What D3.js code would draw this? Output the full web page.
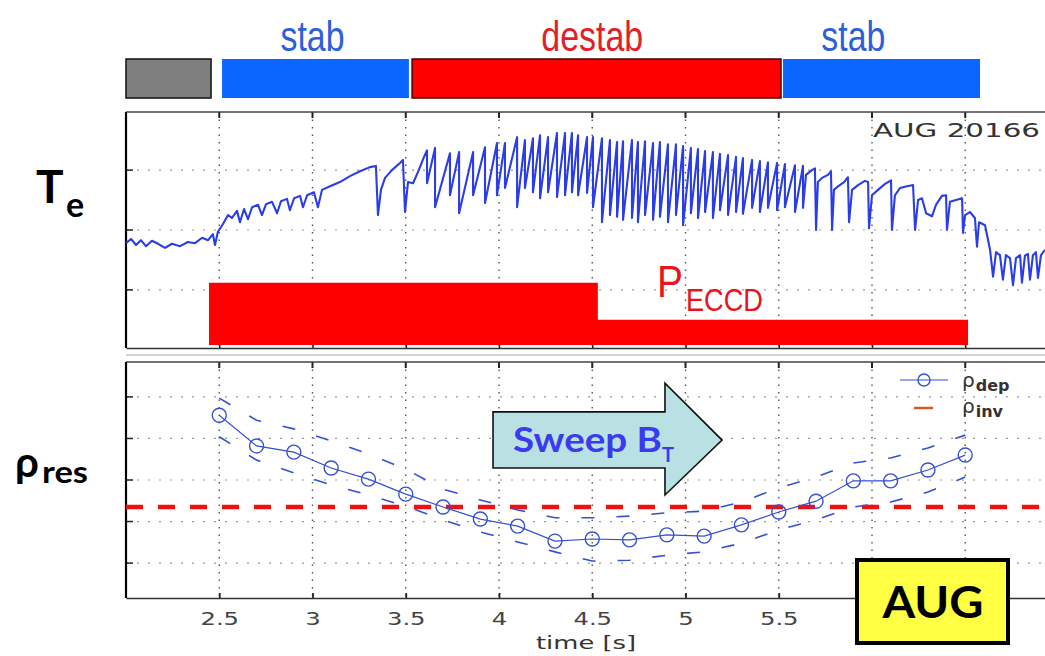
<!DOCTYPE html>
<html>
<head>
<meta charset="utf-8">
<script src="https://cdn.jsdelivr.net/npm/d3@7"></script>
<style>
  body { margin: 0; background: #fff; }
  svg { display: block; }
</style>
</head>
<body>
<div id="chart"></div>
<script>
// ---------------- data ----------------
// heating phases above the plot (time in s)
const phaseStart = [2.0, 2.515, 3.534, 5.523];
const phaseEnd = [2.456, 3.517, 5.512, 6.579];
const phaseKind = ["off", "stab", "destab", "stab"];
const phaseLabel = ["", "stab", "destab", "stab"];
const phaseLabelT = [null, 3.0, 4.5, 5.9];

// Te trace (a.u.) before the sawtooth comb
const leadT = [2.000, 2.027, 2.054, 2.080, 2.107, 2.139, 2.172, 2.209, 2.247, 2.290,
  2.332, 2.370, 2.408, 2.440, 2.466, 2.477, 2.493, 2.520, 2.547, 2.568,
  2.595, 2.611, 2.633, 2.654, 2.676, 2.708, 2.729, 2.751, 2.783, 2.810,
  2.831, 2.863, 2.879, 2.901, 2.933, 2.949, 2.971, 3.008, 3.029, 3.051,
  3.094, 3.147, 3.201, 3.255, 3.308, 3.340, 3.351, 3.367, 3.389, 3.426,
  3.469, 3.485, 3.496, 3.512, 3.539, 3.566, 3.598];
const leadTe = [1.78, 1.85, 1.75, 1.83, 1.73, 1.82, 1.77, 1.70, 1.77, 1.73,
  1.80, 1.78, 1.87, 1.83, 1.93, 1.75, 1.97, 2.10, 2.25, 2.20,
  2.32, 2.13, 2.35, 2.18, 2.38, 2.42, 2.25, 2.43, 2.47, 2.28,
  2.48, 2.52, 2.33, 2.53, 2.57, 2.38, 2.58, 2.63, 2.38, 2.67,
  2.73, 2.80, 2.90, 2.98, 3.05, 3.07, 2.25, 2.67, 2.87, 3.00,
  3.12, 3.17, 2.30, 2.80, 2.78, 2.97, 3.22];

// sawtooth crashes: time, Te just before the crash, Te right after it
const crashT = [3.614, 3.657, 3.737, 3.786, 3.861, 3.925, 3.989, 4.032, 4.097, 4.139,
  4.182, 4.220, 4.263, 4.311, 4.354, 4.391, 4.424, 4.472, 4.504, 4.552,
  4.595, 4.633, 4.665, 4.713, 4.745, 4.783, 4.826, 4.863, 4.906, 4.949,
  4.987, 5.029, 5.067, 5.105, 5.147, 5.185, 5.228, 5.271, 5.308, 5.357,
  5.399, 5.442, 5.491, 5.533, 5.587, 5.630];
const crashTop = [3.33, 3.37, 3.28, 3.30, 3.30, 3.38, 3.45, 3.45, 3.55, 3.50,
  3.53, 3.58, 3.55, 3.62, 3.62, 3.62, 3.58, 3.55, 3.55, 3.53,
  3.50, 3.47, 3.48, 3.50, 3.47, 3.48, 3.45, 3.47, 3.43, 3.43,
  3.40, 3.37, 3.35, 3.32, 3.30, 3.27, 3.25, 3.22, 3.20, 3.17,
  3.15, 3.13, 3.12, 3.10, 3.08, 3.07];
const crashBot = [2.78, 2.38, 2.58, 2.28, 2.58, 2.45, 2.58, 2.70, 2.38, 2.70,
  2.63, 2.53, 2.63, 2.55, 2.58, 2.63, 2.58, 2.62, 2.38, 2.13,
  2.25, 2.22, 2.17, 2.20, 2.13, 2.25, 2.17, 2.22, 2.13, 2.25,
  2.08, 2.28, 2.20, 2.30, 2.20, 2.33, 2.25, 2.30, 2.27, 2.37,
  2.30, 2.37, 2.33, 2.38, 2.30, 2.37];

// Te trace after the comb
const tailT = [5.646, 5.678, 5.694, 5.700, 5.710, 5.732, 5.764, 5.780, 5.786, 5.796,
  5.818, 5.850, 5.871, 5.877, 5.893, 5.925, 5.962, 5.979, 5.984, 6.000,
  6.032, 6.070, 6.102, 6.107, 6.123, 6.150, 6.188, 6.220, 6.231, 6.247,
  6.268, 6.290, 6.322, 6.343, 6.375, 6.397, 6.402, 6.418, 6.450, 6.483,
  6.488, 6.499, 6.525, 6.552, 6.563, 6.574, 6.606, 6.633, 6.649, 6.665,
  6.686, 6.702, 6.718, 6.740, 6.756, 6.772, 6.794, 6.804, 6.820, 6.836,
  6.847, 6.863, 6.879, 6.890, 6.906, 6.928];
const tailTe = [2.92, 3.00, 3.03, 2.00, 2.80, 2.87, 2.92, 2.98, 2.00, 2.67,
  2.73, 2.80, 2.88, 2.13, 2.67, 2.75, 2.82, 2.80, 2.03, 2.58,
  2.67, 2.77, 2.83, 2.00, 2.58, 2.70, 2.73, 2.75, 2.00, 2.50,
  2.53, 2.28, 2.23, 2.42, 2.57, 2.58, 2.00, 2.47, 2.50, 2.53,
  1.95, 2.25, 2.30, 2.20, 1.72, 2.13, 2.08, 1.67, 1.22, 1.63,
  1.58, 1.17, 1.58, 1.53, 1.08, 1.53, 1.58, 1.12, 1.57, 1.60,
  1.17, 1.58, 1.63, 1.20, 1.58, 1.67];

// ECCD power (a.u.), step waveform
const eccdT = [2.445, 4.53, 6.515];
const eccdP = [1.12, 0.5, 0.5];
const eccdBase = 0.08;

// deposition radius during the B_T sweep
const sweepT = [2.5, 2.7, 2.9, 3.1, 3.3, 3.5, 3.7, 3.9, 4.1, 4.3, 4.5,
  4.7, 4.9, 5.1, 5.3, 5.5, 5.7, 5.9, 6.1, 6.3, 6.5];
const rhoDep = [0.456, 0.382, 0.367, 0.329, 0.302, 0.266, 0.235, 0.206, 0.189, 0.153, 0.158,
  0.156, 0.168, 0.165, 0.192, 0.223, 0.249, 0.298, 0.298, 0.324, 0.360];
const rhoUp = [0.497, 0.444, 0.423, 0.394, 0.363, 0.326, 0.278, 0.252, 0.228, 0.209, 0.209,
  0.213, 0.221, 0.225, 0.247, 0.281, 0.307, 0.341, 0.353, 0.377, 0.408];
const rhoLow = [0.404, 0.348, 0.317, 0.288, 0.264, 0.237, 0.204, 0.175, 0.151, 0.127, 0.105,
  0.107, 0.119, 0.127, 0.148, 0.180, 0.204, 0.235, 0.247, 0.271, 0.307];
const rhoInv = 0.235;

// ticks / grid (labels of 6 and 6.5 sit under the AUG box)
const xTicks = [2.5, 3, 3.5, 4, 4.5, 5, 5.5, 6, 6.5];
const xTickLabels = ["2.5", "3", "3.5", "4", "4.5", "5", "5.5", "", ""];
const teGrid = [1, 2, 3];
const rhoGrid = [0.1, 0.2, 0.3, 0.4, 0.5];

// ---------------- chart ----------------
const W = 1045, H = 656;
const svg = d3.select("#chart").append("svg")
  .attr("width", W).attr("height", H)
  .style("font-family", "'DejaVu Sans', sans-serif");

const x = d3.scaleLinear().domain([2, 7]).range([126, 1058.5]);
const yTe = d3.scaleLinear().domain([0.03, 3.97]).range([348, 112]);
const yRho = d3.scaleLinear().domain([0.016, 0.584]).range([598, 362]);

// phase bars on top
const phaseFill = { off: "#7f7f7f", stab: "#0a66ff", destab: "#ff0000" };
const phaseStroke = { off: "#111", stab: "none", destab: "#4a0000" };
svg.append("g").selectAll("rect")
  .data(phaseStart)
  .join("rect")
  .attr("x", (d) => x(d))
  .attr("y", 59)
  .attr("width", (d, i) => x(phaseEnd[i]) - x(d))
  .attr("height", 39)
  .attr("fill", (d, i) => phaseFill[phaseKind[i]])
  .attr("stroke", (d, i) => phaseStroke[phaseKind[i]])
  .attr("stroke-width", 1.5);

svg.append("g").selectAll("text")
  .data(phaseLabel.map((d, i) => ({ label: d, t: phaseLabelT[i], kind: phaseKind[i] })).filter((d) => d.label))
  .join("text")
  .attr("x", (d) => x(d.t))
  .attr("y", 51)
  .attr("text-anchor", "middle")
  .attr("font-family", "'Liberation Sans', Arial, sans-serif")
  .attr("font-size", 42)
  .attr("textLength", (d) => d.label === "destab" ? 102 : 64)
  .attr("lengthAdjust", "spacingAndGlyphs")
  .attr("fill", (d) => d.kind === "destab" ? "#e2202c" : "#2c5fd8")
  .text((d) => d.label);

// panel frames and grids
function panel(yScale, grid, top, bottom) {
  const g = svg.append("g");
  // vertical grid
  g.selectAll(".vg").data(xTicks).join("line")
    .attr("x1", (d) => x(d)).attr("x2", (d) => x(d))
    .attr("y1", top).attr("y2", bottom)
    .attr("stroke", "#555").attr("stroke-width", 1.4)
    .attr("stroke-dasharray", "1.5,6");
  // horizontal grid
  g.selectAll(".hg").data(grid).join("line")
    .attr("x1", x.range()[0]).attr("x2", W)
    .attr("y1", (d) => yScale(d)).attr("y2", (d) => yScale(d))
    .attr("stroke", "#999").attr("stroke-width", 1.2)
    .attr("stroke-dasharray", "2,9");
  // left ticks
  g.selectAll(".lt").data(grid).join("line")
    .attr("x1", 126).attr("x2", 133)
    .attr("y1", (d) => yScale(d)).attr("y2", (d) => yScale(d))
    .attr("stroke", "#222").attr("stroke-width", 1.5);
  // top ticks
  g.selectAll(".tt").data(xTicks).join("line")
    .attr("x1", (d) => x(d)).attr("x2", (d) => x(d))
    .attr("y1", top).attr("y2", top + 6)
    .attr("stroke", "#222").attr("stroke-width", 2);
  g.append("line").attr("x1", 126).attr("x2", W).attr("y1", top).attr("y2", top)
    .attr("stroke", "#444").attr("stroke-width", 1.3);
  g.append("line").attr("x1", 126).attr("x2", 126).attr("y1", top).attr("y2", bottom)
    .attr("stroke", "#000").attr("stroke-width", 2.2);
  return g;
}
panel(yTe, teGrid, 112, 348);
panel(yRho, rhoGrid, 362, 598);

// top panel x axis (no labels)
svg.append("g")
  .attr("transform", "translate(0,348)")
  .call(d3.axisBottom(x).tickValues(xTicks).tickSize(-5).tickSizeOuter(0).tickFormat(""))
  .call((g) => g.select(".domain").attr("stroke", "#333").attr("stroke-width", 1.5))
  .call((g) => g.selectAll(".tick line").attr("stroke", "#222").attr("stroke-width", 1.5));
svg.append("line").attr("x1", 126).attr("x2", W).attr("y1", 355).attr("y2", 355)
  .attr("stroke", "#aaa").attr("stroke-width", 1.2);

// ECCD power block
svg.append("path")
  .datum(eccdT.map((t, i) => [t, eccdP[i]]))
  .attr("d", d3.area().curve(d3.curveStepAfter)
    .x((d) => x(d[0])).y0(yTe(eccdBase)).y1((d) => yTe(d[1])))
  .attr("fill", "#ff0000");

// Te trace
const tePts = [];
leadT.forEach((t, i) => tePts.push([t, leadTe[i]]));
crashT.forEach((t, i) => { tePts.push([t, crashTop[i]]); tePts.push([t, crashBot[i]]); });
tailT.forEach((t, i) => tePts.push([t, tailTe[i]]));
svg.append("path")
  .datum(tePts)
  .attr("d", d3.line().x((d) => x(d[0])).y((d) => yTe(d[1])))
  .attr("fill", "none")
  .attr("stroke", "#2a3de6")
  .attr("stroke-width", 2.1)
  .attr("stroke-linejoin", "round");

svg.append("text")
  .attr("x", 873).attr("y", 137)
  .attr("font-size", 19).attr("fill", "#333")
  .attr("textLength", 167).attr("lengthAdjust", "spacingAndGlyphs")
  .text("AUG 20166");

svg.append("text")
  .attr("x", 657).attr("y", 297)
  .attr("font-family", "'Liberation Sans', Arial, sans-serif")
  .attr("font-size", 44).attr("fill", "#e8141c")
  .attr("textLength", 26).attr("lengthAdjust", "spacingAndGlyphs")
  .text("P");
svg.append("text")
  .attr("x", 686).attr("y", 311)
  .attr("font-family", "'Liberation Sans', Arial, sans-serif")
  .attr("font-size", 31).attr("fill", "#e8141c")
  .attr("textLength", 77).attr("lengthAdjust", "spacingAndGlyphs")
  .text("ECCD");

// bottom panel: inversion radius
svg.append("line")
  .attr("x1", x(2)).attr("x2", W)
  .attr("y1", yRho(rhoInv)).attr("y2", yRho(rhoInv))
  .attr("stroke", "#ee1111").attr("stroke-width", 4.5)
  .attr("stroke-dasharray", "17,15");

// error envelope (dashed)
const rhoLine = d3.line().x((d) => x(d[0])).y((d) => yRho(d[1]));
[rhoUp, rhoLow].forEach((arr) => {
  svg.append("path")
    .datum(sweepT.map((t, i) => [t, arr[i]]))
    .attr("d", rhoLine)
    .attr("fill", "none")
    .attr("stroke", "#3550d2").attr("stroke-width", 1.6)
    .attr("stroke-dasharray", "13,22");
});

// deposition radius
svg.append("path")
  .datum(sweepT.map((t, i) => [t, rhoDep[i]]))
  .attr("d", rhoLine)
  .attr("fill", "none")
  .attr("stroke", "#3550d2").attr("stroke-width", 1.2);
svg.append("g").selectAll("circle")
  .data(sweepT)
  .join("circle")
  .attr("cx", (d) => x(d))
  .attr("cy", (d, i) => yRho(rhoDep[i]))
  .attr("r", 7)
  .attr("fill", "none")
  .attr("stroke", "#3550d2").attr("stroke-width", 1.4);

// legend
svg.append("line").attr("x1", 900).attr("x2", 948).attr("y1", 380).attr("y2", 380)
  .attr("stroke", "#3550d2").attr("stroke-width", 1.2);
svg.append("circle").attr("cx", 924).attr("cy", 380).attr("r", 6)
  .attr("fill", "none").attr("stroke", "#3550d2").attr("stroke-width", 1.4);
svg.append("line").attr("x1", 914).attr("x2", 933).attr("y1", 408).attr("y2", 408)
  .attr("stroke", "#d8582c").attr("stroke-width", 2.5);
[["dep", 387], ["inv", 413]].forEach(([sub, yy]) => {
  const t = svg.append("text").attr("x", 962).attr("y", yy).attr("fill", "#333").attr("font-size", 20);
  t.append("tspan").text("ρ");
  t.append("tspan").attr("dy", 4).attr("dx", 1).attr("font-size", 16).attr("font-weight", "bold").text(sub);
});

// bottom x axis with labels
const xAxis = svg.append("g")
  .attr("transform", "translate(0,598)")
  .call(d3.axisBottom(x).tickValues(xTicks).tickSize(-5).tickSizeOuter(0)
    .tickFormat((d, i) => xTickLabels[i]));
xAxis.select(".domain").attr("stroke", "#333").attr("stroke-width", 1.5);
xAxis.selectAll(".tick line").attr("stroke", "#222").attr("stroke-width", 1.8);
xAxis.selectAll(".tick text")
  .attr("y", 27).attr("dy", 0)
  .attr("font-family", "'DejaVu Sans', sans-serif")
  .attr("font-size", 18).attr("fill", "#444")
  .attr("transform", "scale(1.35,1)");

svg.append("text")
  .attr("x", 586).attr("y", 649)
  .attr("text-anchor", "middle")
  .attr("font-size", 17).attr("fill", "#333")
  .attr("textLength", 100).attr("lengthAdjust", "spacingAndGlyphs")
  .text("time [s]");

// Sweep B_T arrow
const ax0 = x(3.968), ax1 = x(4.89), ax2 = x(5.196);
const ayT = yRho(0.464), ayB = yRho(0.329), ahT = yRho(0.533), ahB = yRho(0.264), ayM = yRho(0.396);
svg.append("polygon")
  .attr("points", [[ax0, ayT], [ax1, ayT], [ax1, ahT], [ax2, ayM], [ax1, ahB], [ax1, ayB], [ax0, ayB]]
    .map((p) => p.join(",")).join(" "))
  .attr("fill", "#b9e1e3").attr("stroke", "#111").attr("stroke-width", 1.6);
const sw = svg.append("text")
  .attr("x", 513).attr("y", 452)
  .attr("font-family", "Lato, 'Open Sans', sans-serif")
  .attr("font-weight", "bold").attr("fill", "#3a3af0");
sw.append("tspan").attr("font-size", 35).attr("textLength", 149).attr("lengthAdjust", "spacingAndGlyphs").text("Sweep B");
sw.append("tspan").attr("font-size", 20).attr("dy", 10).text("T");

// AUG label box
svg.append("rect")
  .attr("x", 857).attr("y", 560).attr("width", 151).attr("height", 83)
  .attr("fill", "#ffff44").attr("stroke", "#000").attr("stroke-width", 4);
svg.append("text")
  .attr("x", 933).attr("y", 618)
  .attr("text-anchor", "middle")
  .attr("font-family", "Lato, 'Open Sans', sans-serif")
  .attr("font-weight", "bold").attr("font-size", 44)
  .attr("textLength", 101).attr("lengthAdjust", "spacingAndGlyphs")
  .text("AUG");

// left panel labels
const te = svg.append("text").attr("x", 36).attr("y", 203)
  .attr("font-family", "Lato, 'Open Sans', sans-serif").attr("font-weight", "bold");
te.append("tspan").attr("font-size", 46).text("T");
te.append("tspan").attr("font-size", 34).attr("dy", 14).attr("x", 66).text("e");

const rr = svg.append("text").attr("x", 15).attr("y", 477)
  .attr("font-family", "Lato, 'Open Sans', sans-serif").attr("font-weight", "bold");
rr.append("tspan").attr("font-size", 42).text("ρ");
rr.append("tspan").attr("font-size", 30).attr("dy", 6).attr("x", 42)
  .attr("textLength", 46).attr("lengthAdjust", "spacingAndGlyphs").text("res");
</script>
</body>
</html>
